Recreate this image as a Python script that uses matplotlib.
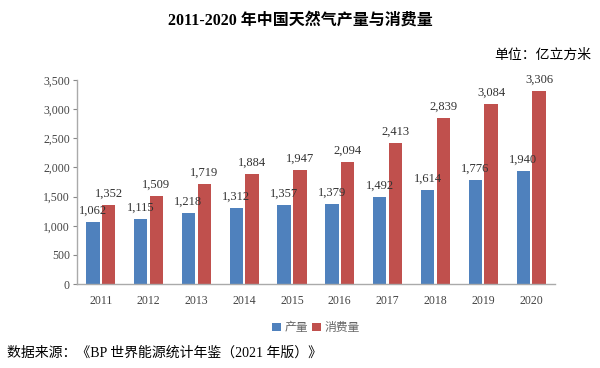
import numpy as np
import matplotlib.pyplot as plt

years = ['2011', '2012', '2013', '2014', '2015', '2016', '2017', '2018', '2019', '2020']
production = [1062, 1115, 1218, 1312, 1357, 1379, 1492, 1614, 1776, 1940]
consumption = [1352, 1509, 1719, 1884, 1947, 2094, 2413, 2839, 3084, 3306]

blue = '#4F81BD'
red = '#C0504D'
grey = '#888888'
serif_cjk = ['Liberation Serif', 'Noto Sans CJK SC']

fig = plt.figure(figsize=(6, 3.68), dpi=100)
ax = fig.add_axes([0.128, 0.228, 0.797, 0.555])

x = np.arange(len(years))
w = 0.28
off = 0.165
b1 = ax.bar(x - off, production, w, color=blue, label='产量')
b2 = ax.bar(x + off, consumption, w, color=red, label='消费量')

for bars, vals in ((b1, production), (b2, consumption)):
    for rect, v in zip(bars, vals):
        ax.text(rect.get_x() + rect.get_width() / 2, v + 90, f'{v:,}',
                ha='center', va='bottom', fontsize=9, color='#333333',
                family='Liberation Serif')

ax.set_xlim(-0.5, len(years) - 0.5)
ax.set_ylim(0, 3500)
ax.set_yticks(np.arange(0, 3501, 500))
ax.set_yticklabels([f'{v:,}' for v in range(0, 3501, 500)],
                   family='Liberation Serif', fontsize=8.5, color='#444444')
ax.set_xticks(x)
ax.set_xticklabels(years, family='Liberation Serif', fontsize=8.5, color='#444444')
ax.tick_params(axis='x', length=0, pad=8)
ax.tick_params(axis='y', length=3, color=grey, pad=2)

for s in ('top', 'right'):
    ax.spines[s].set_visible(False)
for s in ('left', 'bottom'):
    ax.spines[s].set_color('#AAAAAA')
    ax.spines[s].set_linewidth(1)

leg = ax.legend(loc='upper center', bbox_to_anchor=(0.5, -0.13), ncol=2,
                frameon=False, handlelength=0.7, handleheight=0.7,
                handletextpad=0.3, columnspacing=0.4,
                prop={'family': 'Noto Sans CJK SC', 'size': 8.5})
for t in leg.get_texts():
    t.set_color('#666666')

fig.text(0.5, 0.945, '2011-2020 年中国天然气产量与消费量', ha='center', va='center',
         fontsize=11.5, fontweight='bold', family=serif_cjk)
fig.text(0.985, 0.85, '单位：亿立方米', ha='right', va='center',
         fontsize=10, family=serif_cjk)
fig.text(0.012, 0.04, '数据来源：《BP 世界能源统计年鉴（2021 年版）》', ha='left', va='center',
         fontsize=10, family=serif_cjk)

fig.savefig('out.png', dpi=100, facecolor='white')
